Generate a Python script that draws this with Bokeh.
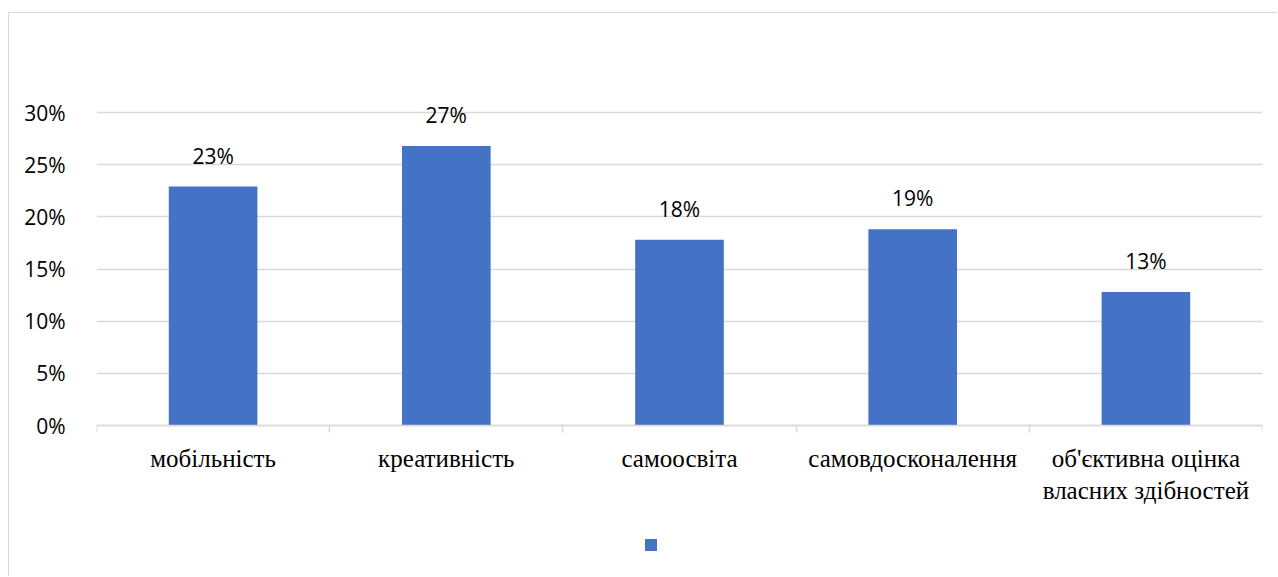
from bokeh.plotting import figure
from bokeh.models import (Range1d, LinearAxis, FixedTicker, NumeralTickFormatter,
                          ColumnDataSource, LabelSet, Legend, LegendItem)
from bokeh.core.properties import value
from bokeh.embed import file_html
from bokeh.resources import INLINE

categories = ["мобільність", "креативність", "самоосвіта", "самовдосконалення",
              "об'єктивна оцінка\nвласних здібностей"]
values = [0.229, 0.268, 0.178, 0.188, 0.128]
value_labels = ["23%", "27%", "18%", "19%", "13%"]
y_ticks = [0, 0.05, 0.10, 0.15, 0.20, 0.25, 0.30]

BLUE = "#4472C4"
GRID = "#D9D9D9"

n = len(categories)
centers = [i + 0.5 for i in range(n)]
edges = list(range(n + 1))

# layout: the value axis spans 313 px for 0..30%; frame extended above and below
PX_PER_UNIT = 313 / 0.30
Y_TOP = 0.30 + 50 / PX_PER_UNIT
Y_BOTTOM = -137 / PX_PER_UNIT

src = ColumnDataSource(dict(x=centers, val=values, lab=value_labels))

p = figure(x_range=Range1d(0, n), y_range=Range1d(Y_BOTTOM, Y_TOP),
           width=1269, height=564, output_backend="svg", toolbar_location=None,
           x_axis_location=None, y_axis_location=None,
           min_border_left=87, min_border_right=16, min_border_top=49, min_border_bottom=15)
p.margin = (12, 0, 0, 8)
p.styles = {"border-top": "1px solid #D9D9D9", "border-left": "1px solid #D9D9D9"}
p.outline_line_color = None
p.background_fill_color = "white"
p.border_fill_color = "white"

r = p.vbar(x="x", top="val", bottom=0, width=0.38, source=src, fill_color=BLUE, line_color=None)

# y axis
yax = LinearAxis(ticker=FixedTicker(ticks=y_ticks),
                 formatter=NumeralTickFormatter(format="0%"))
yax.axis_line_color = None
yax.major_tick_line_color = None
yax.minor_tick_line_color = None
yax.major_label_standoff = 25
yax.major_label_text_font = "Open Sans"
yax.major_label_text_font_size = "21px"
yax.major_label_text_color = "#000000"
p.add_layout(yax, "left")

# x axis at 0: labels at category centres, tick marks at category boundaries
xax = LinearAxis(ticker=FixedTicker(ticks=centers, minor_ticks=edges), fixed_location=0)
xax.major_label_overrides = {c: lab for c, lab in zip(centers, categories)}
xax.axis_line_color = GRID
xax.axis_line_width = 1.5
xax.major_tick_line_color = None
xax.minor_tick_line_color = GRID
xax.minor_tick_line_width = 1.5
xax.minor_tick_out = 7
xax.minor_tick_in = 0
xax.major_label_standoff = 12
xax.major_label_text_font = "Liberation Serif"
xax.major_label_text_font_size = "25px"
xax.major_label_text_color = "#000000"
xax.major_label_orientation = "horizontal"
p.add_layout(xax, "below")

p.xgrid.grid_line_color = None
p.ygrid.ticker = FixedTicker(ticks=y_ticks)
p.ygrid.grid_line_color = GRID
p.ygrid.grid_line_width = 1.5

labels = LabelSet(x="x", y="val", text="lab", source=src, text_align="center",
                  text_baseline="bottom", y_offset=17, text_font=value("Open Sans"),
                  text_font_size="21px", text_color="#000000")
p.add_layout(labels)

legend = Legend(items=[LegendItem(label=" ", renderers=[r])], location=(547, 10),
                glyph_width=15, glyph_height=15, label_width=0, label_standoff=0,
                label_text_font_size="1px", padding=0, margin=0, spacing=0,
                border_line_color=None, background_fill_alpha=0)
p.add_layout(legend, "center")

open("out.html", "w").write(file_html(p, INLINE))
